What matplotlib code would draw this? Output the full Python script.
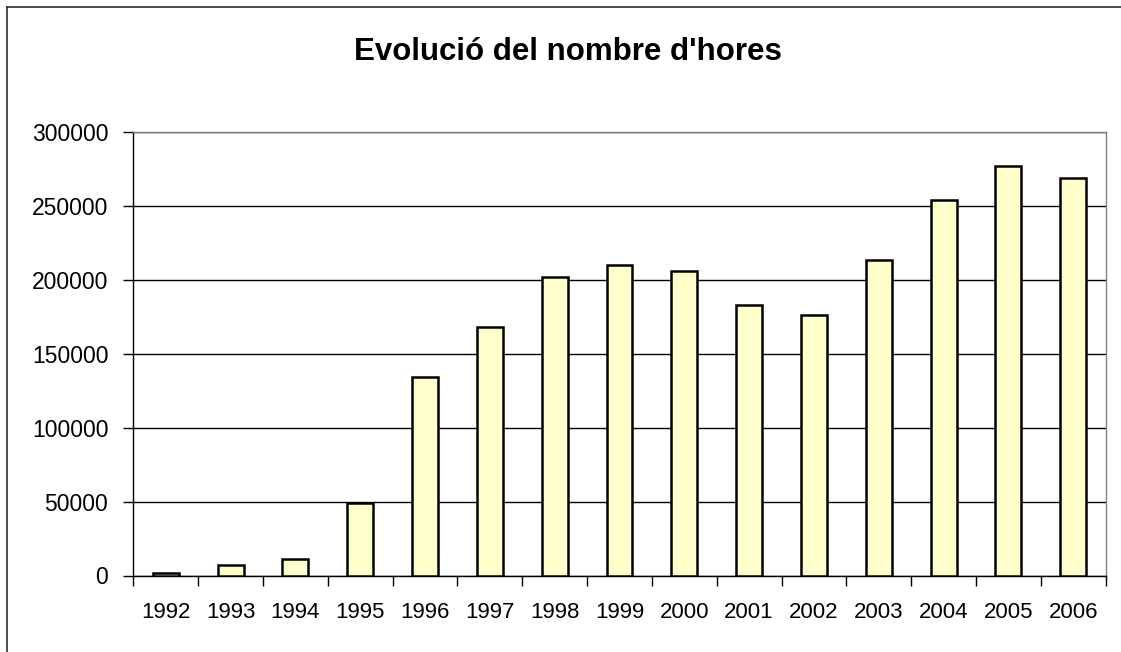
import matplotlib
matplotlib.use("Agg")
import matplotlib.pyplot as plt
from matplotlib.lines import Line2D
import numpy as np

years = ["1992", "1993", "1994", "1995", "1996", "1997", "1998", "1999",
         "2000", "2001", "2002", "2003", "2004", "2005", "2006"]
hours = [1600, 7000, 11100, 48800, 134500, 168200, 201800, 209900,
         205900, 183100, 176400, 213800, 254300, 277000, 268900]
yticks = [0, 50000, 100000, 150000, 200000, 250000, 300000]
title = "Evolució del nombre d'hores"

plt.rcParams['font.family'] = ['Liberation Sans', 'DejaVu Sans']

W, H = 1121, 652
fig = plt.figure(figsize=(W / 100, H / 100), dpi=100)
ax = fig.add_axes([133.3 / W, 1 - 575.5 / H, (1105.7 - 133.3) / W, (575.5 - 132.3) / H])

x = np.arange(len(years))
ax.bar(x, hours, width=0.4, color="#FFFFCC", edgecolor="black", linewidth=1.8, zorder=3)

ax.set_xlim(-0.5, len(years) - 0.5)
ax.set_ylim(0, 300000)
ax.set_yticks(yticks)
ax.set_yticklabels([str(v) for v in yticks])
ax.yaxis.grid(True, color="#000000", linewidth=1.0, zorder=0)
ax.set_axisbelow(True)

ax.set_xticks(x)
ax.set_xticklabels(years)
ax.set_xticks(np.arange(-0.5, len(years), 1.0), minor=True)
ax.tick_params(axis="x", which="major", length=0, pad=19, labelsize=16)
ax.tick_params(axis="x", which="minor", length=7, width=1.0, direction="out", color="black")
ax.tick_params(axis="y", length=7, width=1.0, direction="out", pad=11, labelsize=16.5)

for s in ["left", "bottom"]:
    ax.spines[s].set_color("black")
    ax.spines[s].set_linewidth(1.0)
for s in ["top", "right"]:
    ax.spines[s].set_color("#808080")
    ax.spines[s].set_linewidth(1.0)

fig.text(568 / W, 1 - 52 / H, title, ha="center", va="center",
         fontsize=22.5, fontweight="bold")

# chart-area border (only top and left visible, rest cropped)
fig.add_artist(Line2D([6.5 / W, 1.0], [1 - 6.5 / H, 1 - 6.5 / H], color="#303030", linewidth=1.2, transform=fig.transFigure))
fig.add_artist(Line2D([6.5 / W, 6.5 / W], [0.0, 1 - 6.5 / H], color="#303030", linewidth=1.2, transform=fig.transFigure))

fig.savefig("out.png", dpi=100)
